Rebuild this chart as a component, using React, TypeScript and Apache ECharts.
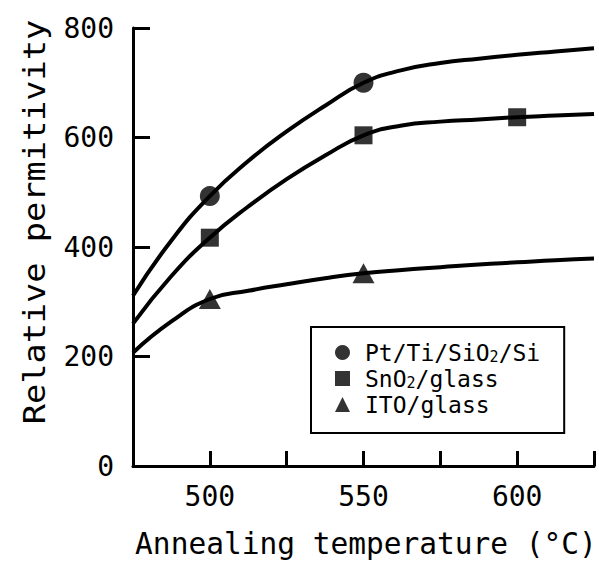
import { useEffect, useRef } from 'react';
import * as echarts from 'echarts';

// Guide curves (every 12.5 °C)
const curveTemps = [475, 487.5, 500, 512.5, 525, 537.5, 550, 562.5, 575, 587.5, 600, 612.5, 625];
const ptCurve = [311, 412, 493, 557, 611, 658, 700, 723, 736, 744, 751, 757, 763];
const snCurve = [260, 347, 417, 474, 524, 567, 604, 622, 629, 633, 637, 640, 643];
const itoCurve = [207, 264, 305, 320, 332, 343, 352, 358, 363, 368, 372, 376, 379];

// Measured points
const ptTemps = [500, 550];
const ptValues = [493, 700];
const snTemps = [500, 550, 600];
const snValues = [417, 604, 637];
const itoTemps = [500, 550];
const itoValues = [305, 352];

const seriesNames = ['Pt/Ti/SiO2/Si', 'SnO2/glass', 'ITO/glass'];
const legendRich = ['{a0|Pt/Ti/SiO}{s|2}{a|/Si}', '{a0|SnO}{s|2}{a|/glass}', '{a0|ITO/glass}'];
const xTicks = [500, 550, 600];
const yTicks = [0, 200, 400, 600, 800];

const FONT = '"DejaVu Sans Mono", "Liberation Mono", monospace';

const pairs = (xs: number[], ys: number[]) => xs.map((x, i) => [x, ys[i]]);

export default function App() {
  const ref = useRef<HTMLDivElement>(null);
  useEffect(() => {
    if (!ref.current) return;
    const chart = echarts.init(ref.current, undefined, { renderer: 'svg' });
    const lineBase = {
      type: 'line' as const,
      smooth: 0.5,
      symbol: 'none',
      lineStyle: { color: '#000', width: 4 },
      silent: true,
      z: 2,
    };
    const scatterBase = {
      type: 'scatter' as const,
      itemStyle: { color: '#000' },
      z: 3,
    };
    chart.setOption({
      animation: false,
      backgroundColor: '#fff',
      grid: { left: 133, right: 5, top: 28, bottom: 97, containLabel: false, outerBoundsMode: 'none' },
      xAxis: {
        type: 'value',
        min: 475,
        max: 625,
        interval: 25,
        name: 'Annealing temperature (°C)',
        nameLocation: 'middle',
        nameGap: 63,
        nameTextStyle: { color: '#000', fontSize: 29.5, fontFamily: FONT, padding: [0, 0, 0, 5] },
        axisLine: { show: true, lineStyle: { color: '#000', width: 3 } },
        axisTick: { show: true, inside: true, length: 15, lineStyle: { color: '#000', width: 3 } },
        axisLabel: {
          color: '#000',
          fontSize: 28,
          fontFamily: FONT,
          margin: 16,
          formatter: (v: number) => (xTicks.includes(v) ? String(v) : ''),
        },
        splitLine: { show: false },
      },
      yAxis: {
        type: 'value',
        min: 0,
        max: 800,
        interval: 200,
        axisLine: { show: true, lineStyle: { color: '#000', width: 3 } },
        axisTick: { show: true, inside: true, length: 17, lineStyle: { color: '#000', width: 3 } },
        axisLabel: {
          color: '#000',
          fontSize: 28,
          fontFamily: FONT,
          margin: 19,
          formatter: (v: number) => (yTicks.includes(v) ? String(v) : ''),
        },
        splitLine: { show: false },
      },
      legend: {
        data: seriesNames,
        orient: 'vertical',
        left: 311,
        top: 327,
        padding: [14, 24, 17, 24],
        itemWidth: 15,
        itemHeight: 15,
        itemGap: 3,
        borderColor: '#000',
        borderWidth: 2,
        selectedMode: false,
        formatter: (name: string) => legendRich[seriesNames.indexOf(name)],
        textStyle: {
          color: '#000',
          fontFamily: FONT,
          fontSize: 23,
          lineHeight: 23,
          rich: {
            a0: { color: '#000', fontFamily: FONT, fontSize: 23, lineHeight: 23, padding: [0, 0, 0, 10] },
            a: { color: '#000', fontFamily: FONT, fontSize: 23, lineHeight: 23 },
            s: { color: '#000', fontFamily: FONT, fontSize: 15, lineHeight: 23, verticalAlign: 'bottom', padding: [6, 0, 0, 0] },
          },
        },
      },
      graphic: [
        {
          type: 'text',
          x: 35,
          y: 222,
          rotation: Math.PI / 2,
          scaleX: 1.12,
          style: {
            text: 'Relative permitivity',
            fill: '#000',
            font: `30px ${FONT}`,
            textAlign: 'center',
            textVerticalAlign: 'middle',
          },
        },
      ],
      series: [
        { ...lineBase, name: 'curve-pt', data: pairs(curveTemps, ptCurve) },
        { ...lineBase, name: 'curve-sn', data: pairs(curveTemps, snCurve) },
        { ...lineBase, name: 'curve-ito', data: pairs(curveTemps, itoCurve) },
        { ...scatterBase, name: seriesNames[0], symbol: 'circle', symbolSize: 20, data: pairs(ptTemps, ptValues) },
        { ...scatterBase, name: seriesNames[1], symbol: 'rect', symbolSize: 18, data: pairs(snTemps, snValues) },
        { ...scatterBase, name: seriesNames[2], symbol: 'triangle', symbolSize: [22, 20], data: pairs(itoTemps, itoValues) },
      ],
    });
    return () => chart.dispose();
  }, []);
  return (
    <div
      ref={ref}
      style={{ position: 'fixed', left: 0, top: 0, width: 599, height: 563, background: '#fff' }}
    />
  );
}
